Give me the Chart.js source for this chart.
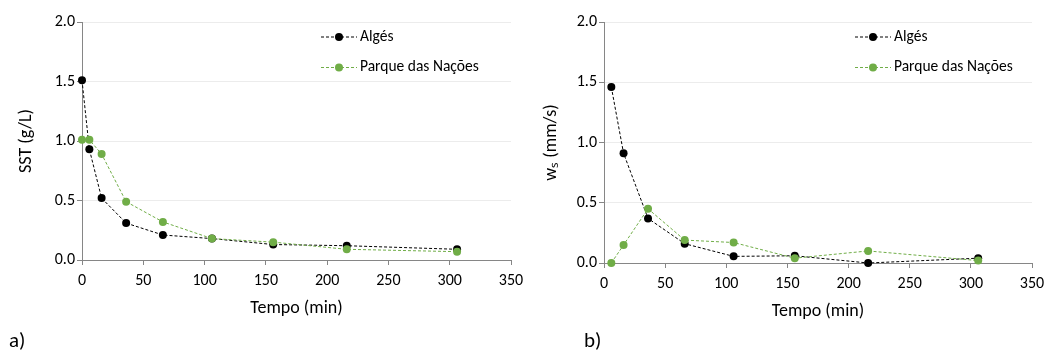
<!DOCTYPE html>
<html>
<head>
<meta charset="utf-8">
<script src="https://cdn.jsdelivr.net/npm/chart.js@4.4.1/dist/chart.umd.min.js"></script>
<style>
    body { margin: 0; background: #fff; }
    #wrap { position: relative; width: 1047px; height: 351px; font-family: Carlito, Lato, sans-serif; }
    .box { position: absolute; top: 0; height: 351px; }
    .tag { position: absolute; font-size: 21px; color: #000; }
</style>
</head>
<body>
<div id="wrap">
    <div class="box" style="left:0;width:523px"><canvas id="chartA"></canvas></div>
    <div class="box" style="left:523px;width:524px"><canvas id="chartB"></canvas></div>
    <div class="tag" style="left:9px;top:327px">a)</div>
    <div class="tag" style="left:584px;top:327px">b)</div>
</div>
<script>
const seriesNames = ['Algés', 'Parque das Nações'];
const seriesColors = ['#000000', '#70ad47'];

// a) SST
const tempoA = [0, 6, 16, 36, 66, 106, 156, 216, 306];
const sstAlges = [1.51, 0.93, 0.52, 0.31, 0.21, 0.18, 0.13, 0.12, 0.09];
const sstParque = [1.01, 1.01, 0.89, 0.49, 0.32, 0.18, 0.15, 0.09, 0.07];

// b) velocidade de queda
const tempoB = [6, 16, 36, 66, 106, 156, 216, 306];
const wsAlges = [1.46, 0.91, 0.37, 0.16, 0.055, 0.06, 0.0, 0.04];
const wsParque = [0.0, 0.15, 0.45, 0.19, 0.17, 0.04, 0.10, 0.02];

const xTicks = [0, 50, 100, 150, 200, 250, 300, 350];
const yTicks = [0, 0.5, 1.0, 1.5, 2.0];

const FONT = 'Carlito, Lato, sans-serif';

function toPoints(xs, ys) {
    return xs.map((x, i) => ({ x: x, y: ys[i] }));
}

// legenda estilo Excel: linha tracejada com marcador
const excelLegend = {
    id: 'excelLegend',
    afterDraw(chart, args, opts) {
        const ctx = chart.ctx;
        ctx.save();
        seriesNames.forEach((name, i) => {
            const y = opts.top + i * 30.5;
            ctx.strokeStyle = seriesColors[i];
            ctx.lineWidth = 1;
            ctx.setLineDash([3, 2]);
            ctx.beginPath();
            ctx.moveTo(opts.x, y);
            ctx.lineTo(opts.x + 36, y);
            ctx.stroke();
            ctx.setLineDash([]);
            ctx.fillStyle = seriesColors[i];
            ctx.beginPath();
            ctx.arc(opts.x + 18, y, 4, 0, Math.PI * 2);
            ctx.fill();
            ctx.fillStyle = '#000';
            ctx.font = '15.5px ' + FONT;
            ctx.textBaseline = 'middle';
            ctx.fillText(name, opts.x + 39, y);
        });
        ctx.restore();
    }
};

function makeChart(id, xs, alges, parque, yTitle, yWidth, xHeight, rightPad, titleX, legendX) {
    new Chart(document.getElementById(id), {
        type: 'line',
        data: {
            datasets: [alges, parque].map((vals, i) => ({
                label: seriesNames[i],
                data: toPoints(xs, vals),
                borderColor: seriesColors[i],
                backgroundColor: seriesColors[i],
                borderWidth: 1,
                borderDash: [3, 2],
                pointRadius: 4,
                pointHoverRadius: 4,
                pointBorderWidth: 0,
                tension: 0,
                clip: false
            })).reverse()
        },
        options: {
            responsive: false,
            animation: false,
            maintainAspectRatio: false,
            layout: { padding: { top: 22, right: rightPad, bottom: 0, left: 0 } },
            plugins: {
                legend: { display: false },
                tooltip: { enabled: false },
                excelLegend: { x: legendX, top: 37 }
            },
            scales: {
                x: {
                    type: 'linear',
                    min: 0,
                    max: 350,
                    afterBuildTicks: s => { s.ticks = xTicks.map(v => ({ value: v })); },
                    afterFit: s => { s.height = xHeight; s.paddingLeft = 0; s.paddingRight = 0; },
                    grid: { drawOnChartArea: false, drawTicks: true, tickLength: 5, tickColor: '#868686' },
                    border: { color: '#868686', width: 1 },
                    ticks: { color: '#000', font: { family: FONT, size: 16 }, padding: 6, maxRotation: 0 },
                    title: { display: true, text: 'Tempo (min)', color: '#000', font: { family: FONT, size: 18 }, padding: { bottom: xHeight - 91 + 32 } }
                },
                y: {
                    min: 0,
                    max: 2,
                    afterBuildTicks: s => { s.ticks = yTicks.map(v => ({ value: v })); },
                    afterFit: s => { s.width = yWidth; s.paddingTop = 0; s.paddingBottom = 0; },
                    grid: { color: '#ececec', drawTicks: true, tickLength: 5, tickColor: '#868686' },
                    border: { color: '#868686', width: 1 },
                    ticks: { color: '#000', font: { family: FONT, size: 16 }, padding: 2, callback: v => v.toFixed(1) },
                    title: { display: true, text: yTitle, color: '#000', font: { family: FONT, size: 18 }, padding: { top: titleX - 11 } }
                }
            }
        },
        plugins: [excelLegend]
    });
}

function setSize(id, w) {
    const c = document.getElementById(id);
    c.width = w;
    c.height = 351;
    c.style.width = w + 'px';
    c.style.height = '351px';
}

setSize('chartA', 523);
setSize('chartB', 524);
makeChart('chartA', tempoA, sstAlges, sstParque, 'SST (g/L)', 82, 91, 12, 27, 321);
makeChart('chartB', tempoB, wsAlges, wsParque, 'wₛ (mm/s)', 81, 88, 15, 29, 332);
</script>
</body>
</html>
